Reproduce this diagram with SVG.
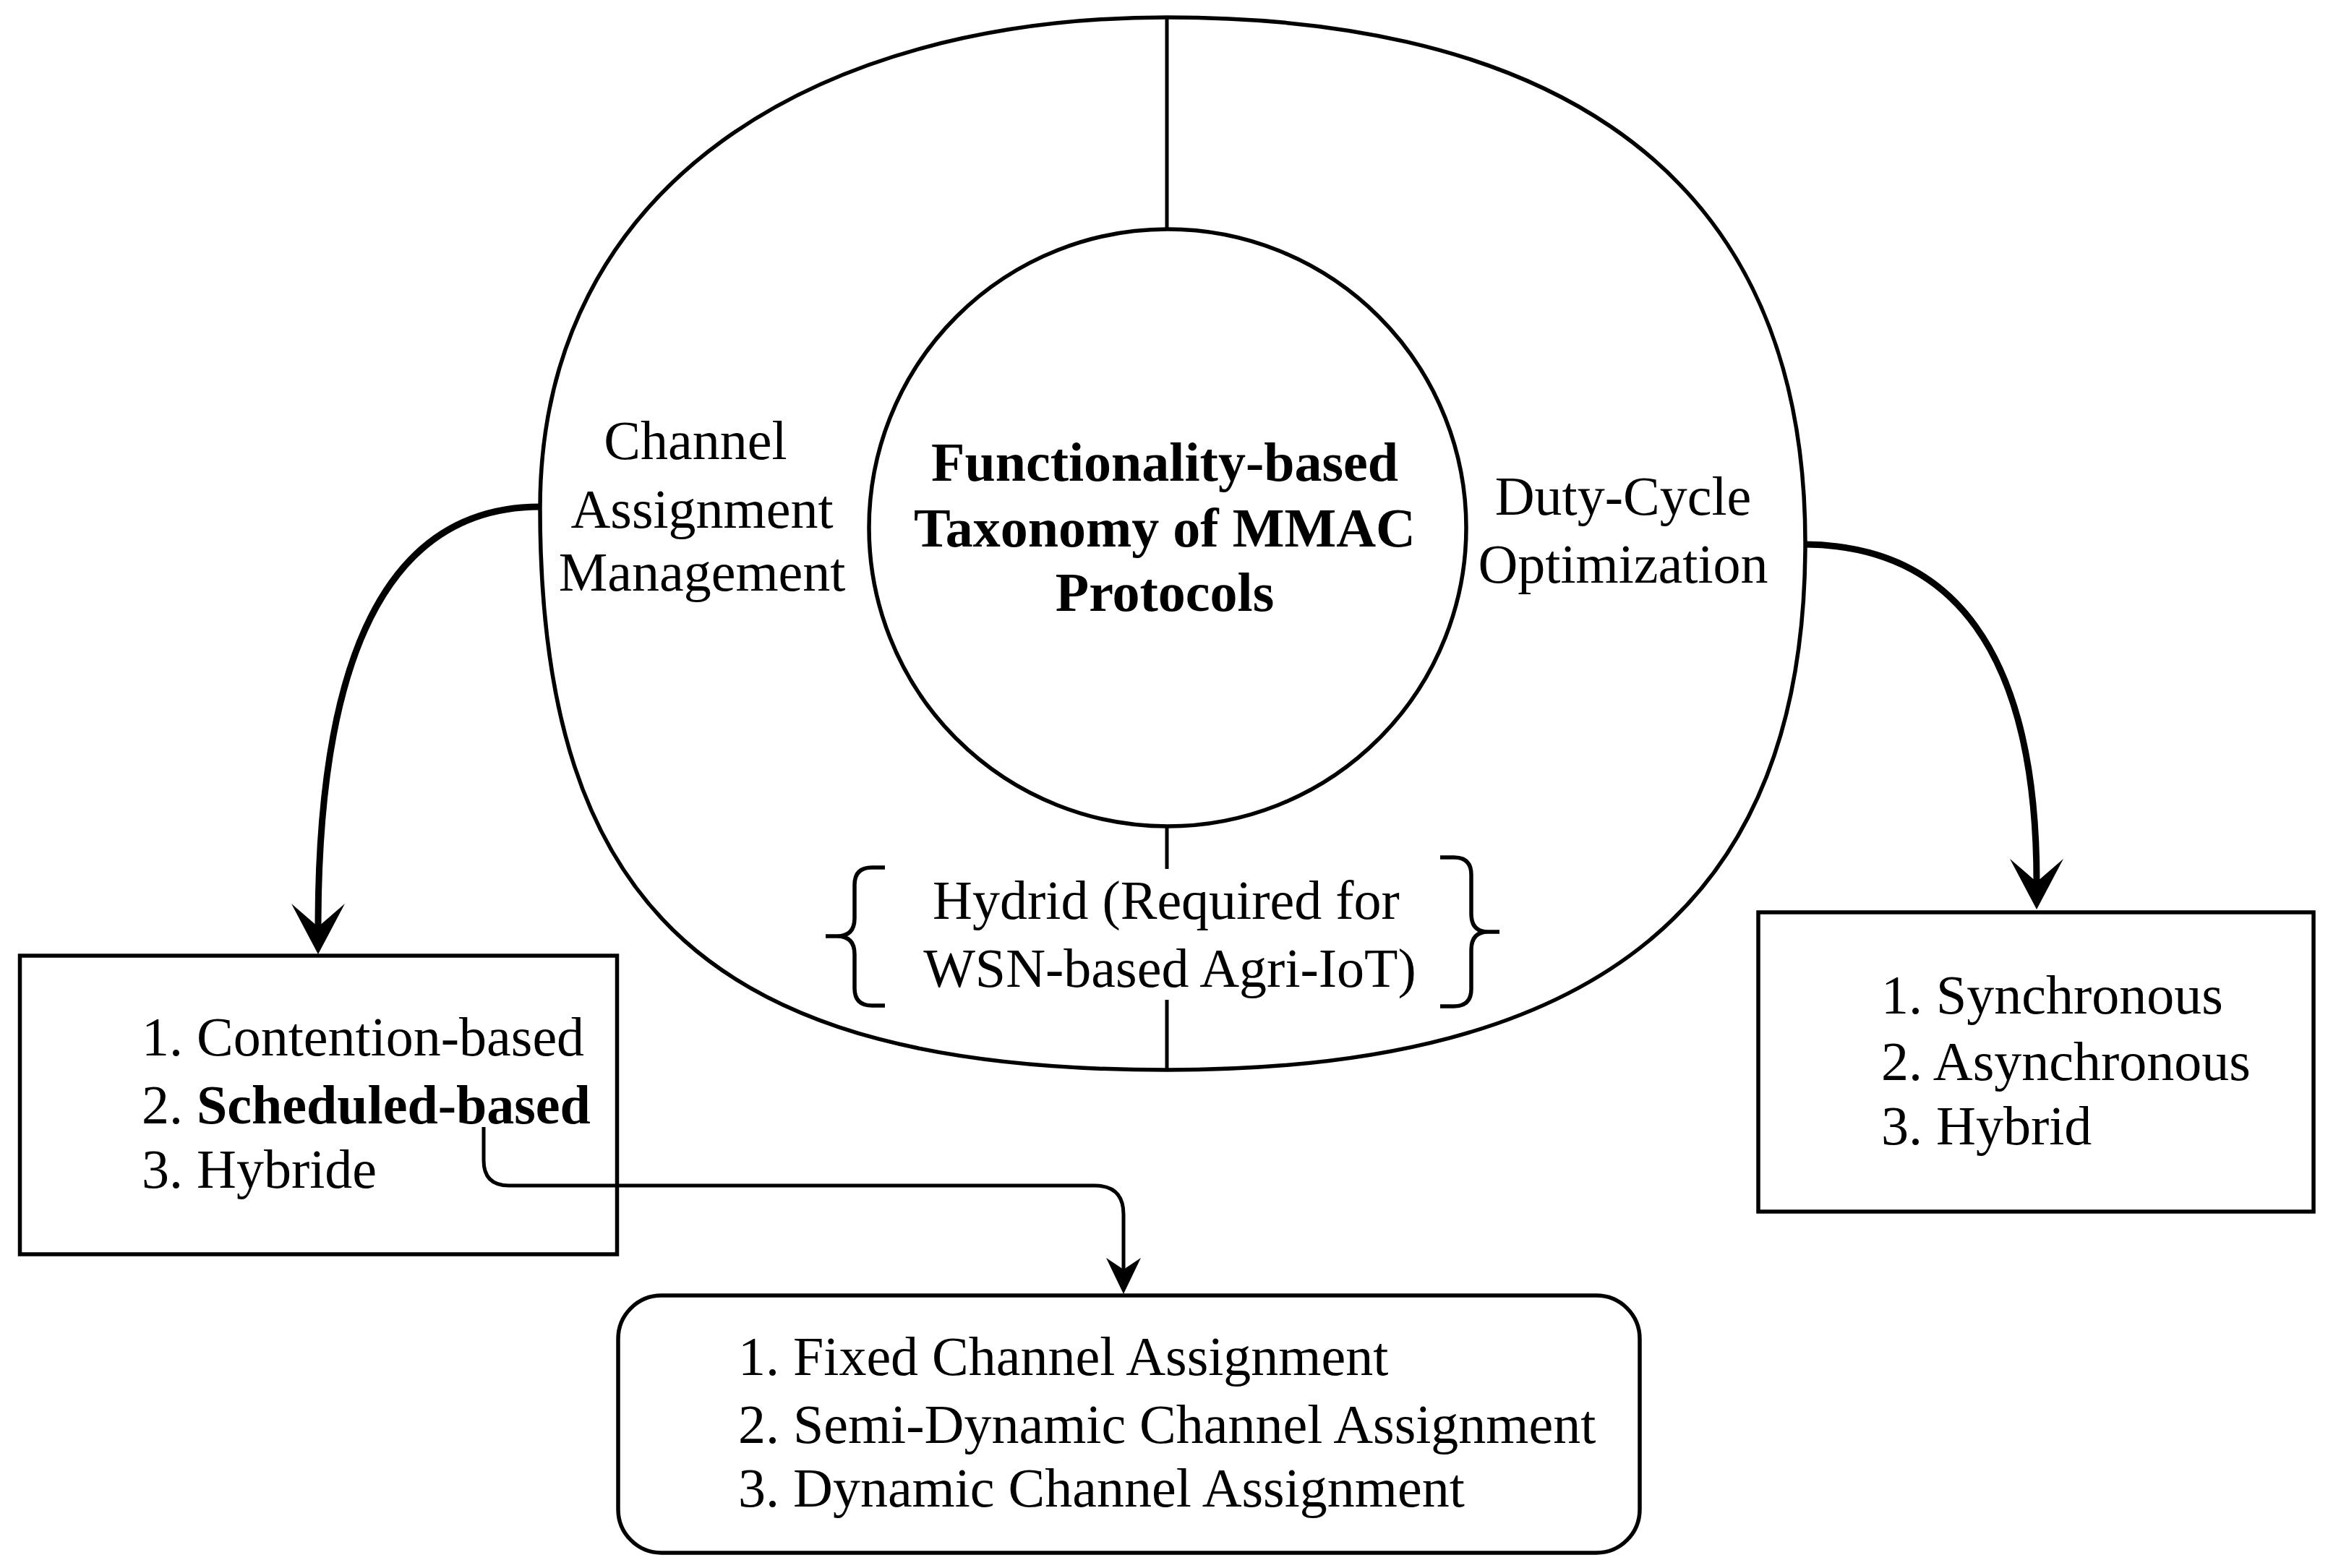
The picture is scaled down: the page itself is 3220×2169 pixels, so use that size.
<svg xmlns="http://www.w3.org/2000/svg" width="3220" height="2169" viewBox="0 0 3220 2169">
<style>
.shape{fill:none;stroke:#000;stroke-width:5.5}
.div{fill:none;stroke:#000;stroke-width:5}
.box{fill:#fff;stroke:#000;stroke-width:5.5}
.thick{fill:none;stroke:#000;stroke-width:9}
.thin{fill:none;stroke:#000;stroke-width:5}
text{font-family:"Liberation Serif","Times New Roman",serif;font-size:76px;fill:#000}
.c{text-anchor:middle}
.b{font-weight:bold}
</style>
<defs>
<marker id="ahThick" markerUnits="userSpaceOnUse" markerWidth="80" markerHeight="80" viewBox="0 -40 80 80" refX="32" refY="0" orient="auto">
<path d="M70,0 L0,-37 L32,0 L0,37 Z" fill="#000"/>
</marker>
<marker id="ahThin" markerUnits="userSpaceOnUse" markerWidth="60" markerHeight="60" viewBox="0 -30 60 60" refX="16" refY="0" orient="auto">
<path d="M50,0 L0,-24 L16,0 L0,24 Z" fill="#000"/>
</marker>
</defs>
<rect x="0" y="0" width="3220" height="2169" fill="#fff"/>

<g id="outer-ring">
<path class="shape" d="M1614,24 C2073,24 2497,184 2497,751 C2497,1247 2214,1480 1614,1480 C990,1480 747,1262 747,703 C747,255 1128,24 1614,24 Z"/>
<line class="div" x1="1614" y1="24" x2="1614" y2="317"/>
<line class="div" x1="1614" y1="1144" x2="1614" y2="1202"/>
<line class="div" x1="1614" y1="1383" x2="1614" y2="1480"/>
</g>

<g id="center">
<circle class="shape" cx="1615" cy="730" r="413"/>
<text class="c b" x="1611" y="665">Functionality-based</text>
<text class="c b" x="1611" y="756">Taxonomy of MMAC</text>
<text class="c b" x="1611" y="845">Protocols</text>
</g>

<g id="channel-assignment">
<text class="c" x="962" y="635">Channel</text>
<text class="c" x="971" y="730">Assignment</text>
<text class="c" x="971" y="817">Management</text>
</g>

<g id="duty-cycle">
<text class="c" x="2245" y="712">Duty-Cycle</text>
<text class="c" x="2245" y="806">Optimization</text>
</g>

<g id="hybrid">
<path class="shape" d="M1224,1200 H1206 Q1182,1200 1182,1224 V1270 Q1182,1295 1158,1295 H1142 M1158,1295 Q1182,1295 1182,1320 V1367 Q1182,1391 1206,1391 H1224"/>
<path class="shape" d="M1992,1186 H2011 Q2035,1186 2035,1210 V1264 Q2035,1289 2058,1289 H2074 M2058,1289 Q2035,1289 2035,1314 V1368 Q2035,1392 2011,1392 H1992"/>
<text class="c" x="1613" y="1271">Hydrid (Required for</text>
<text class="c" x="1618" y="1365">WSN-based Agri-IoT)</text>
</g>

<g id="mac-types">
<rect class="box" x="27.5" y="1322" width="826" height="413"/>
<text x="196" y="1460">1. Contention-based</text>
<text x="196" y="1554">2. <tspan class="b">Scheduled-based</tspan></text>
<text x="196" y="1643">3. Hybride</text>
</g>

<g id="duty-types">
<rect class="box" x="2432" y="1262" width="768" height="414"/>
<text x="2602" y="1402">1. Synchronous</text>
<text x="2602" y="1494">2. Asynchronous</text>
<text x="2602" y="1583">3. Hybrid</text>
</g>

<g id="channel-types">
<rect class="box" x="855" y="1792" width="1413" height="356" rx="60" ry="60"/>
<text x="1021" y="1902">1. Fixed Channel Assignment</text>
<text x="1021" y="1996">2. Semi-Dynamic Channel Assignment</text>
<text x="1021" y="2084">3. Dynamic Channel Assignment</text>
</g>

<g id="connectors">
<path class="thick" marker-end="url(#ahThick)" d="M747,701 C540,701 440,900 440,1282"/>
<path class="thick" marker-end="url(#ahThick)" d="M2497,753 C2700,755 2817,900 2817,1220"/>
<path class="thin" marker-end="url(#ahThin)" d="M669,1559 V1605 Q669,1640 704,1640 H1514 Q1554,1640 1554,1680 V1756"/>
</g>
</svg>
